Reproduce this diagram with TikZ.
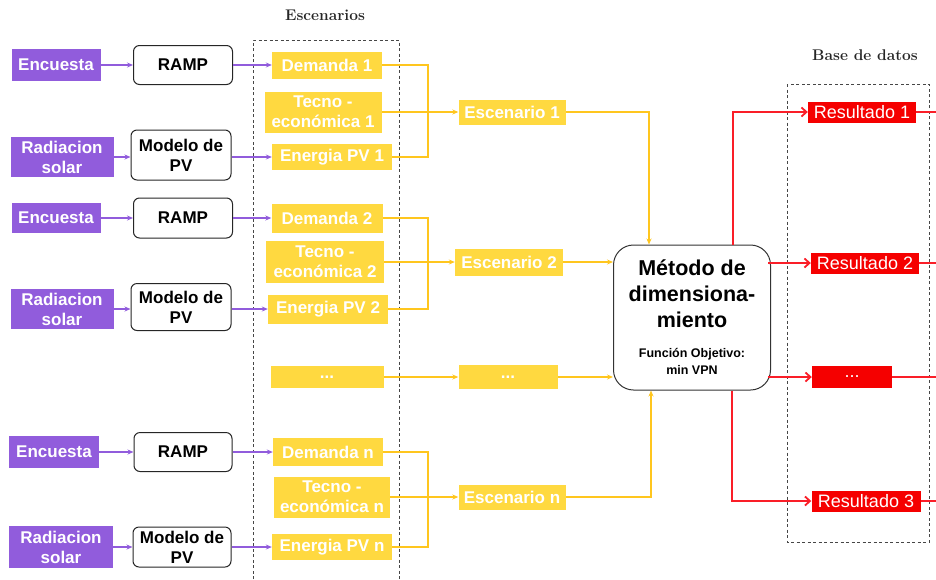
\documentclass[tikz,border=0pt]{standalone}
\usepackage{fontspec}
\newfontfamily\arialf{Liberation Sans}
\usetikzlibrary{arrows.meta}
\definecolor{purpC}{RGB}{145,92,220}
\definecolor{yelC}{RGB}{255,217,64}
\definecolor{yelL}{RGB}{255,198,30}
\definecolor{redC}{RGB}{245,0,0}
\definecolor{redL}{RGB}{250,30,40}
\definecolor{dashC}{RGB}{70,70,70}
\tikzset{
  sz/.style 2 args={minimum width=#1pt, minimum height=#2pt},
  purp/.style={fill=purpC, text=white, font=\arialf\bfseries\fontsize{17}{20}\selectfont, align=center, inner sep=0pt},
  wbox/.style={draw=black!85, line width=1pt, fill=white, rounded corners=6pt, font=\arialf\bfseries\fontsize{17}{20}\selectfont, align=center, inner sep=0pt},
  ybox/.style={fill=yelC, text=white, font=\arialf\bfseries\fontsize{17}{20}\selectfont, align=center, inner sep=0pt},
  rbox/.style={fill=redC, text=white, font=\arialf\fontsize{18}{20}\selectfont, align=center, inner sep=0pt},
  parr/.style={draw=purpC, line width=1.3pt, -{Stealth[length=6pt,width=5pt]}},
  yline/.style={draw=yelL, line width=1.6pt},
  yarr/.style={yline, -{Stealth[length=6pt,width=5pt]}},
  rline/.style={draw=redL, line width=1.8pt},
  rarr/.style={rline, -{Straight Barb[length=5pt,width=9pt]}},
  frame/.style={draw=dashC, line width=1pt, dash pattern=on 3pt off 2.5pt},
  title/.style={font=\bfseries\fontsize{15.5}{18}\selectfont, text=black!85, inner sep=0pt},
}
\begin{document}
\begin{tikzpicture}[x=1pt,y=-1pt]
\useasboundingbox (0,0) rectangle (936,579);

% frames
\draw[frame] (253,590) -- (253,40) -- (399,40) -- (399,590);
\draw[frame] (787,84) rectangle (929,542);
\node[title] (tesc) at (325,15) {Escenarios};
\node[title] (tbase) at (865,55) {Base de datos};

\coordinate (jx) at (428,0);
\coordinate (edge) at (936,0);

% ---------- row 1
\node[purp, sz={89}{32}] (enc1) at (56,65) {Encuesta};
\node[wbox, sz={99}{39}] (ramp1) at (183,65) {RAMP};
\node[purp, sz={103}{40}] (rad1) at (62,157) {Radiacion\\solar};
\node[wbox, sz={100}{50}] (mod1) at (181,155) {Modelo de\\PV};
\node[ybox, sz={110}{27}] (dem1) at (327,65) {Demanda 1};
\node[ybox, sz={117}{41}] (tec1) at (323,112) {Tecno -\\económica 1};
\node[ybox, sz={120}{26}] (epv1) at (332,157) {Energia PV 1};
\node[ybox, sz={107}{25}] (esc1) at (512,112) {Escenario 1};

% ---------- row 2
\node[purp, sz={89}{30}] (enc2) at (56,218) {Encuesta};
\node[wbox, sz={99}{40}] (ramp2) at (183,218) {RAMP};
\node[purp, sz={103}{40}] (rad2) at (62,309) {Radiacion\\solar};
\node[wbox, sz={100}{47}] (mod2) at (181,307) {Modelo de\\PV};
\node[ybox, sz={111}{29}] (dem2) at (327,218) {Demanda 2};
\node[ybox, sz={118}{42}] (tec2) at (325,262) {Tecno -\\económica 2};
\node[ybox, sz={120}{29}] (epv2) at (328,309) {Energia PV 2};
\node[ybox, sz={108}{27}] (esc2) at (509,262) {Escenario 2};

% ---------- dots row
\node[ybox, sz={113}{22}] (dots1) at (327,377) {...};
\node[ybox, sz={99}{24}] (dots2) at (508,377) {...};

% ---------- row n
\node[purp, sz={90}{32}] (encn) at (54,452) {Encuesta};
\node[wbox, sz={98}{39}] (rampn) at (183,452) {RAMP};
\node[purp, sz={104}{42}] (radn) at (61,547) {Radiacion\\solar};
\node[wbox, sz={98}{40}] (modn) at (182,547) {Modelo de\\PV};
\node[ybox, sz={110}{28}] (demn) at (328,452) {Demanda n};
\node[ybox, sz={116}{41}] (tecn) at (332,497) {Tecno -\\económica n};
\node[ybox, sz={120}{26}] (epvn) at (332,547) {Energia PV n};
\node[ybox, sz={107}{25}] (escn) at (512,497) {Escenario n};

% ---------- method
\node[draw=black!80, line width=1pt, fill=white, rounded corners=20pt, sz={157}{145},
      align=center, inner sep=0pt, font=\arialf\bfseries\fontsize{21.5}{26}\selectfont] (met) at (692,317.5)
  {Método de\\dimensiona-\\miento\\[4pt]
   {\fontsize{12.5}{15}\selectfont Función Objetivo:}\\[-9pt]
   {\fontsize{12.5}{15}\selectfont min VPN}};

% ---------- results
\node[rbox, sz={108}{21}] (res1) at (862,112) {Resultado 1};
\node[rbox, sz={108}{21}] (res2) at (865,263) {Resultado 2};
\node[rbox, sz={80}{22}] (resd) at (852,377) {...};
\node[rbox, sz={109}{21}] (res3) at (866,501) {Resultado 3};

% ---------- purple arrows
\foreach \r in {1,2,n}{
  \draw[parr] (enc\r.east) -- (enc\r.east -| ramp\r.west);
  \draw[parr] (ramp\r.east) -- (ramp\r.east -| dem\r.west);
  \draw[parr] (rad\r.east |- epv\r) -- (epv\r -| mod\r.west);
  \draw[parr] (mod\r.east |- epv\r) -- (epv\r.west);
  % yellow joins
  \draw[yline] (dem\r.east) -- (dem\r.east -| jx) -- (epv\r.east -| jx) -- (epv\r.east);
  \draw[yarr] (tec\r.east) -- (tec\r.east -| esc\r.west);
}
\draw[yarr] (dots1.east) -- (dots2.west);

% ---------- escenarios to method
\draw[yarr] (esc1.east) -| ([xshift=-43pt]met.north);
\draw[yarr] (esc2.east) -- (esc2.east -| met.west);
\draw[yarr] (dots2.east) -- (dots2.east -| met.west);
\draw[yarr] (escn.east) -| ([xshift=-41pt]met.south);

% ---------- method to results
\draw[rarr] ([xshift=41pt]met.north) |- (res1.west);
\draw[rarr] ([xshift=-3pt]met.east |- res2) -- (res2.west);
\draw[rarr] ([xshift=-3pt]met.east |- resd) -- (resd.west);
\draw[rarr] ([xshift=40pt]met.south) |- (res3.west);
\foreach \r in {res1,res2,resd,res3}{
  \draw[rline] (\r.east) -- (\r.east -| edge);
}
\end{tikzpicture}
\end{document}
